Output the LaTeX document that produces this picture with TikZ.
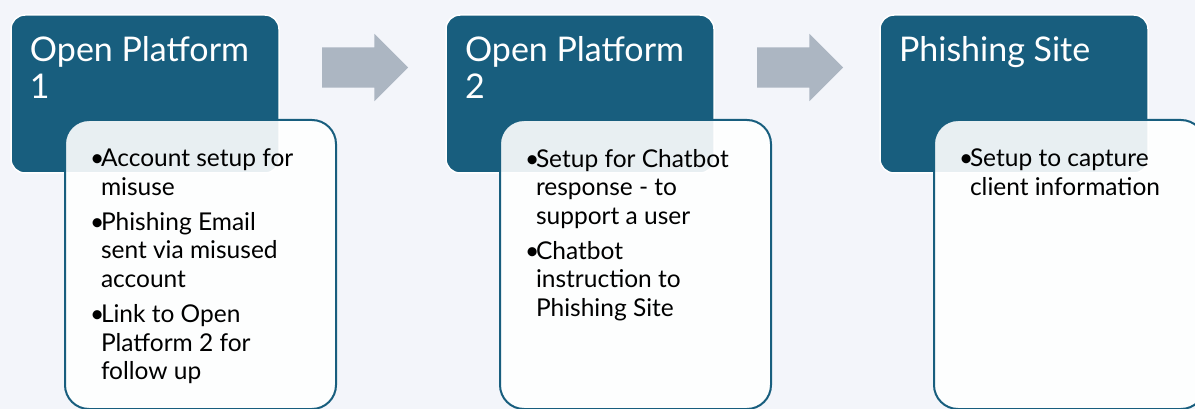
\documentclass[tikz,border=0pt]{standalone}
\usepackage{fontspec}
\setmainfont{Lato}
\usetikzlibrary{positioning, shapes.arrows}
\definecolor{pagebg}{RGB}{243,245,250}
\definecolor{headblue}{RGB}{24,94,126}
\definecolor{arrowgray}{RGB}{172,182,194}
\newcommand{\bul}{\makebox[11pt][l]{\textbullet}}
\newcommand{\ind}{\hspace*{11pt}}
\tikzset{
	head/.style={rounded corners=14pt, fill=headblue, draw=white, line width=1.5pt, minimum width=268pt, minimum height=158pt, inner sep=0pt, outer sep=0pt}, % dark title boxes
	headtext/.style={text=white, font=\fontsize{34}{37}\selectfont, align=left, inner sep=0pt, outer sep=0pt},
	body/.style={rounded corners=24pt, fill=white, fill opacity=0.9, draw=headblue, line width=2pt, minimum width=271pt, minimum height=289pt, inner sep=0pt, outer sep=0pt}, % white detail boxes
	bodytext/.style={font=\fontsize{24.5}{28.7}\selectfont, align=left, inner sep=0pt, outer sep=0pt},
	flowarrow/.style={single arrow, fill=arrowgray, minimum height=86pt, text height=40pt, text depth=0pt, single arrow head extend=13.5pt, inner sep=0pt},
}

\begin{document}
\begin{tikzpicture}[x=1pt, y=-1pt]
	% Background
	\useasboundingbox (0,0) rectangle (1195,409);
	\clip (0,0) rectangle (1195,409);
	\fill[pagebg] (0,0) rectangle (1195,409);

	% Title boxes
	\node[head] (head1) at (145,94) {};
	\node[head, right=167pt of head1] (head2) {};
	\node[head, right=166pt of head2] (head3) {};

	\node[headtext, below right=21pt and 19pt of head1.north west] (title1) {Open Platform\\1};
	\node[headtext, below right=21pt and 19pt of head2.north west] (title2) {Open Platform\\2};
	\node[headtext, below right=21pt and 19pt of head3.north west] (title3) {Phishing Site};

	% Arrows
	\node[flowarrow] (arr1) at (355,67.5) {};
	\node[flowarrow] (arr2) at (790,67.5) {};

	% Detail boxes
	\node[body, below right=105pt and 54pt of head1.north west] (body1) {};
	\node[body, below right=105pt and 54pt of head2.north west] (body2) {};
	\node[body, below right=105pt and 54pt of head3.north west] (body3) {};

	\node[bodytext, below right=29pt and 25pt of body1.north west] (list1) {%
		\bul Account setup for\\ \ind misuse\\[6pt]
		\bul Phishing Email\\ \ind sent via misused\\ \ind account\\[6pt]
		\bul Link to Open\\ \ind Platform 2 for\\ \ind follow up};
	\node[bodytext, below right=29pt and 25pt of body2.north west] (list2) {%
		\bul Setup for Chatbot\\ \ind response - to\\ \ind support a user\\[6pt]
		\bul Chatbot\\ \ind instruction to\\ \ind Phishing Site};
	\node[bodytext, below right=29pt and 25pt of body3.north west] (list3) {%
		\bul Setup to capture\\ \ind client information};
\end{tikzpicture}
\end{document}
